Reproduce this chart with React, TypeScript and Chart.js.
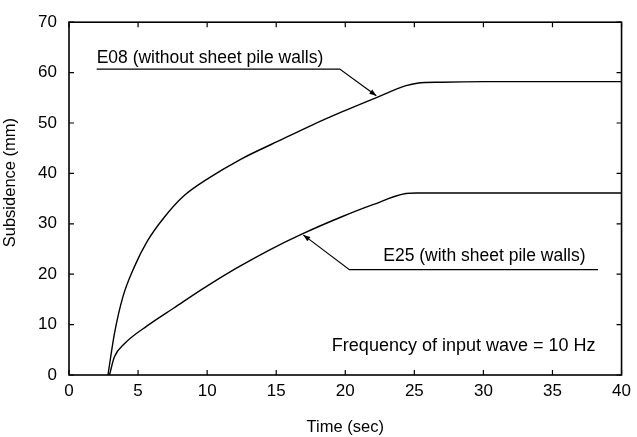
import React, { useEffect, useRef } from "react";
import { Chart, registerables } from "chart.js";

Chart.register(...registerables);

// ---- data ----
const timeE08 = [2.82, 3.29, 3.89, 4.72, 5.68, 6.87, 8.3, 9.97, 12.36, 15.22, 17.6, 19.75, 22.3, 24.4, 25.2, 27.0, 30.0, 40.0];
const subsE08 = [0, 8.2, 15.4, 21.4, 26.6, 31.2, 35.5, 38.8, 42.7, 46.5, 49.6, 52.2, 55.1, 57.4, 57.9, 58.1, 58.2, 58.2];

const timeE25 = [2.93, 3.29, 4.01, 5.68, 7.59, 9.73, 12.12, 14.5, 16.89, 19.75, 22.0, 24.4, 25.2, 30.0, 40.0];
const subsE25 = [0, 3.6, 6.2, 9.8, 13.3, 17.2, 21.2, 24.8, 28.0, 31.4, 33.8, 36.0, 36.1, 36.1, 36.1];

const xTicks = [0, 5, 10, 15, 20, 25, 30, 35, 40];
const yTicks = [0, 10, 20, 30, 40, 50, 60, 70];

const xTitle = "Time (sec)";
const yTitle = "Subsidence (mm)";

const labelE08 = "E08 (without sheet pile walls)";
const labelE25 = "E25 (with sheet pile walls)";
const noteText = "Frequency of input wave = 10 Hz";

// annotation anchor points in data coordinates (time, subsidence)
const leaderE08T = [2.0, 19.6, 22.25];
const leaderE08S = [60.7, 60.7, 55.4];
const leaderE25T = [38.3, 20.3, 16.96];
const leaderE25S = [20.9, 20.9, 27.8];
const textE08Pos = [2.0, 61.9];
const textE25Pos = [22.75, 22.7];
const notePos = [19.03, 4.7];

const FONT = "'Liberation Sans', Arial, Helvetica, sans-serif";

const toXY = (xs: number[], ys: number[]) => xs.map((x, i) => ({ x, y: ys[i] }));

const overlay = {
  id: "overlay",
  afterDraw(chart: any) {
    const { ctx, chartArea: a, scales } = chart;
    const sx = scales.x;
    const sy = scales.y;
    ctx.save();
    ctx.strokeStyle = "#000";
    ctx.fillStyle = "#000";
    // frame
    ctx.lineWidth = 1.6;
    ctx.strokeRect(a.left, a.top, a.right - a.left, a.bottom - a.top);
    // inward ticks on all sides
    ctx.lineWidth = 1.2;
    ctx.beginPath();
    xTicks.forEach((v) => {
      const p = sx.getPixelForValue(v);
      ctx.moveTo(p, a.bottom);
      ctx.lineTo(p, a.bottom - 5);
      ctx.moveTo(p, a.top);
      ctx.lineTo(p, a.top + 5);
    });
    yTicks.forEach((v) => {
      const p = sy.getPixelForValue(v);
      ctx.moveTo(a.left, p);
      ctx.lineTo(a.left + 5, p);
      ctx.moveTo(a.right, p);
      ctx.lineTo(a.right - 5, p);
    });
    ctx.stroke();

    // leader lines with arrowheads
    const leader = (ts: number[], ss: number[]) => {
      const pts = ts.map((t, i) => [sx.getPixelForValue(t), sy.getPixelForValue(ss[i])]);
      ctx.lineWidth = 1.2;
      ctx.beginPath();
      pts.forEach((p, i) => (i === 0 ? ctx.moveTo(p[0], p[1]) : ctx.lineTo(p[0], p[1])));
      ctx.stroke();
      const tip = pts[pts.length - 1];
      const prev = pts[pts.length - 2];
      const ang = Math.atan2(tip[1] - prev[1], tip[0] - prev[0]);
      const len = 7;
      const half = 2.6;
      ctx.beginPath();
      ctx.moveTo(tip[0], tip[1]);
      ctx.lineTo(
        tip[0] - len * Math.cos(ang) + half * Math.sin(ang),
        tip[1] - len * Math.sin(ang) - half * Math.cos(ang)
      );
      ctx.lineTo(
        tip[0] - len * Math.cos(ang) - half * Math.sin(ang),
        tip[1] - len * Math.sin(ang) + half * Math.cos(ang)
      );
      ctx.closePath();
      ctx.fill();
    };
    leader(leaderE08T, leaderE08S);
    leader(leaderE25T, leaderE25S);

    // texts
    ctx.textAlign = "left";
    ctx.textBaseline = "alphabetic";
    ctx.font = `17.5px ${FONT}`;
    ctx.fillText(labelE08, sx.getPixelForValue(textE08Pos[0]), sy.getPixelForValue(textE08Pos[1]));
    ctx.fillText(labelE25, sx.getPixelForValue(textE25Pos[0]), sy.getPixelForValue(textE25Pos[1]));
    ctx.font = `18px ${FONT}`;
    ctx.fillText(noteText, sx.getPixelForValue(notePos[0]), sy.getPixelForValue(notePos[1]));

    // y-axis title (sits slightly above the axis centre in the reference)
    ctx.save();
    ctx.translate(10.5, (a.top + a.bottom) / 2 - 16);
    ctx.rotate(-Math.PI / 2);
    ctx.textAlign = "center";
    ctx.textBaseline = "middle";
    ctx.font = `16.5px ${FONT}`;
    ctx.fillText(yTitle, 0, 0);
    ctx.restore();

    ctx.restore();
  },
};

export default function App() {
  const ref = useRef<HTMLCanvasElement | null>(null);

  useEffect(() => {
    if (!ref.current) return;
    const chart = new Chart(ref.current, {
      type: "line",
      data: {
        datasets: [
          {
            label: labelE08,
            data: toXY(timeE08, subsE08),
            borderColor: "#000",
            borderWidth: 1.4,
            pointRadius: 0,
            fill: false,
            cubicInterpolationMode: "monotone",
          },
          {
            label: labelE25,
            data: toXY(timeE25, subsE25),
            borderColor: "#000",
            borderWidth: 1.4,
            pointRadius: 0,
            fill: false,
            cubicInterpolationMode: "monotone",
          },
        ],
      },
      options: {
        animation: false,
        responsive: false,
        devicePixelRatio: 1,
        events: [],
        layout: { padding: { top: 20, right: 9, left: 0, bottom: 0 } },
        plugins: {
          legend: { display: false },
          tooltip: { enabled: false },
        },
        scales: {
          x: {
            type: "linear",
            min: 0,
            max: 40,
            afterBuildTicks: (s: any) => {
              s.ticks = xTicks.map((v) => ({ value: v }));
            },
            afterFit: (s: any) => {
              s.height = 62;
            },
            grid: { display: false, drawTicks: false },
            border: { display: false },
            ticks: {
              color: "#000",
              padding: 6,
              maxRotation: 0,
              font: { family: FONT, size: 17 },
            },
            title: {
              display: true,
              text: xTitle,
              color: "#000",
              font: { family: FONT, size: 16.5 },
              padding: { top: 0, bottom: 0 },
            },
          },
          y: {
            type: "linear",
            min: 0,
            max: 70,
            afterBuildTicks: (s: any) => {
              s.ticks = yTicks.map((v) => ({ value: v }));
            },
            afterFit: (s: any) => {
              s.width = 69;
            },
            grid: { display: false, drawTicks: false },
            border: { display: false },
            ticks: {
              color: "#000",
              padding: 12,
              font: { family: FONT, size: 17 },
            },
            title: { display: false, text: yTitle },
          },
        },
      },
      plugins: [overlay],
    });
    return () => chart.destroy();
  }, []);

  return (
    <div style={{ position: "fixed", left: 0, top: 0, width: 637, height: 437, background: "#fff" }}>
      <canvas ref={ref} width={637} height={437} style={{ display: "block" }} />
    </div>
  );
}
